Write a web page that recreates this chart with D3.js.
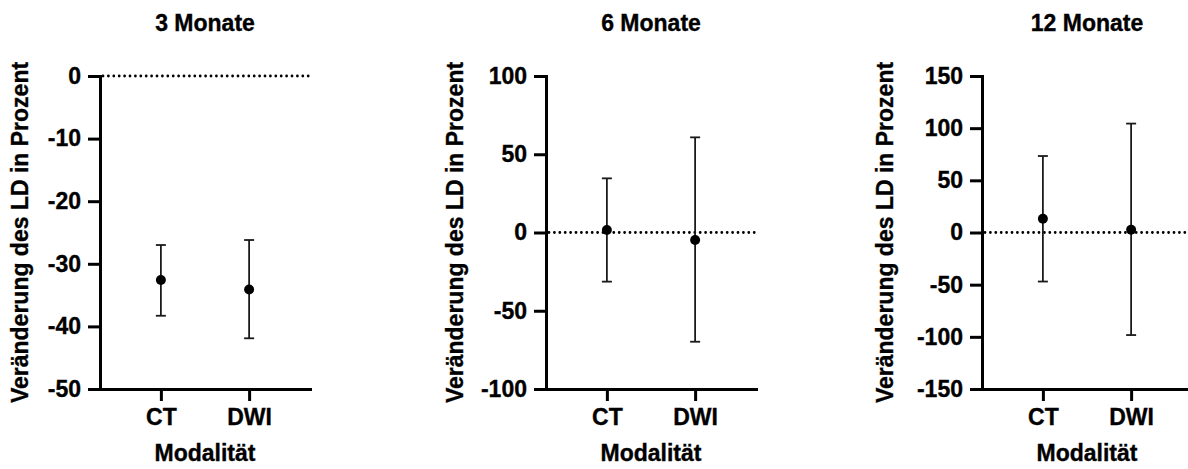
<!DOCTYPE html>
<html>
<head>
<meta charset="utf-8">
<script src="https://cdn.jsdelivr.net/npm/d3@7"></script>
<style>
  html, body { margin:0; padding:0; background:#fff; }
  svg { display:block; font-family:"Liberation Sans", Arial, sans-serif; font-weight:bold; }
  svg text { stroke:#000; stroke-width:0.35; }
  .axis path, .axis line { stroke:#000; stroke-width:3; }
  .axis text { font-size:23px; font-weight:bold; fill:#000; }
  .axis.xa text { font-size:23px; }
</style>
</head>
<body>
<div id="chart"></div>
<script>
// ====== données
const CATEGORIES = ["CT", "DWI"];
const TITLES     = ["3 Monate", "6 Monate", "12 Monate"];
const MEANS  = [[-32.6, -34.1], [1.6, -4.8], [13.2, 2.6]];
const UPPER  = [[-27.0, -26.2], [34.6, 60.8], [73.3, 104.4]];
const LOWER  = [[-38.3, -41.9], [-31.4, -69.8], [-47.0, -98.3]];
const Y_DOMAINS = [[-50, 0], [-100, 100], [-150, 150]];
const Y_TICKS   = [[0, -10, -20, -30, -40, -50], [100, 50, 0, -50, -100], [150, 100, 50, 0, -50, -100, -150]];

// ====== dimensions
const W = 1188, H = 469;
const AX_X = [100, 546, 982];   // position de l'axe y de chaque panneau
const PW = 210;                  // largeur du panneau
const TOP = 76, BOT = 389;
const YLAB_OFF = [80, 91, 97];

const svg = d3.select("#chart").append("svg")
  .attr("width", W).attr("height", H);

TITLES.forEach((title, i) => {
  const g = svg.append("g").attr("transform", `translate(${AX_X[i]},0)`);

  const x = d3.scalePoint().domain(CATEGORIES).range([0, PW]).padding(0.69);
  const y = d3.scaleLinear().domain(Y_DOMAINS[i]).range([BOT, TOP]);

  // ligne zéro pointillée
  g.append("line")
    .attr("x1", 3).attr("x2", PW)
    .attr("y1", y(0)).attr("y2", y(0))
    .attr("stroke", "#000").attr("stroke-width", 2.8)
    .attr("stroke-linecap", "round")
    .attr("stroke-dasharray", "0,5.4");

  // axes (tirets simples comme signe moins)
  g.append("g").attr("class", "axis")
    .call(d3.axisLeft(y).tickValues(Y_TICKS[i]).tickFormat(d => String(d))
      .tickSize(12).tickPadding(7).tickSizeOuter(0))
    .select(".domain").attr("stroke-linecap", "square");

  g.append("g").attr("class", "axis xa")
    .attr("transform", `translate(0,${BOT})`)
    .call(d3.axisBottom(x).tickSize(12).tickPadding(8).tickSizeOuter(0))
    .select(".domain").attr("stroke-linecap", "square");

  // barres d'erreur
  const rows = CATEGORIES.map((c, j) => ({ c, m: MEANS[i][j], hi: UPPER[i][j], lo: LOWER[i][j] }));
  const eb = g.selectAll("g.eb").data(rows).enter().append("g").attr("class", "eb");
  eb.append("line")
    .attr("x1", d => x(d.c)).attr("x2", d => x(d.c))
    .attr("y1", d => y(d.hi)).attr("y2", d => y(d.lo))
    .attr("stroke", "#1a1a1a").attr("stroke-width", 1.8);
  eb.append("line")
    .attr("x1", d => x(d.c) - 5).attr("x2", d => x(d.c) + 5)
    .attr("y1", d => y(d.hi)).attr("y2", d => y(d.hi))
    .attr("stroke", "#1a1a1a").attr("stroke-width", 1.8);
  eb.append("line")
    .attr("x1", d => x(d.c) - 5).attr("x2", d => x(d.c) + 5)
    .attr("y1", d => y(d.lo)).attr("y2", d => y(d.lo))
    .attr("stroke", "#1a1a1a").attr("stroke-width", 1.8);
  eb.append("circle")
    .attr("cx", d => x(d.c)).attr("cy", d => y(d.m))
    .attr("r", 5).attr("fill", "#000");

  // titre
  g.append("text")
    .attr("x", PW / 2).attr("y", 31)
    .attr("text-anchor", "middle")
    .attr("font-size", 23).attr("fill", "#000")
    .text(title);

  // libellé x
  g.append("text")
    .attr("x", PW / 2).attr("y", 461)
    .attr("text-anchor", "middle")
    .attr("font-size", 23).attr("fill", "#000")
    .text("Modalität");

  // libellé y
  g.append("text")
    .attr("transform", `translate(${-YLAB_OFF[i] + 8},${(TOP + BOT) / 2 + 0}) rotate(-90)`)
    .attr("text-anchor", "middle")
    .attr("font-size", 23).attr("fill", "#000")
    .text("Veränderung des LD in Prozent");
});
</script>
</body>
</html>
